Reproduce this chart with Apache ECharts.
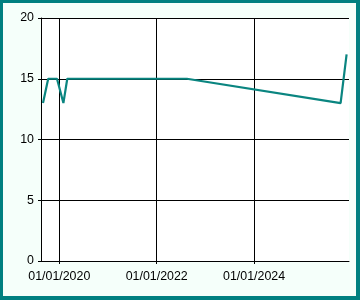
<!DOCTYPE html>
<html>
<head>
<meta charset="utf-8">
<script src="https://cdn.jsdelivr.net/npm/echarts@6/dist/echarts.min.js"></script>
<style>
html,body{margin:0;padding:0;background:#F5FFFA;}
#wrap{position:relative;width:360px;height:300px;}
#chart{position:absolute;left:0;top:0;width:360px;height:300px;}
#frame{position:absolute;left:0;top:0;width:360px;height:300px;box-sizing:border-box;border-style:solid;border-color:#008080;border-width:3px 4px 4px 3px;pointer-events:none;}
</style>
</head>
<body>
<div id="wrap"><div id="chart"></div><div id="frame"></div></div>
<script>
const dates = ['2019-09-01','2019-10-10','2019-12-15','2020-02-01','2020-03-01','2022-08-15','2025-10-11','2025-11-25'];
const values = [13, 15, 15, 13, 15, 15, 13, 17];
const xTickDates = ['2020-01-01','2022-01-01','2024-01-01'];
const xMin = '2019-08-17';
const xMax = '2025-12-13';
const yTicks = [0, 5, 10, 15, 20];

const ts = d => new Date(d + 'T00:00:00Z').getTime();
const pad = n => (n < 10 ? '0' : '') + n;
const fmt = v => { const d = new Date(v); return pad(d.getUTCDate()) + '/' + pad(d.getUTCMonth() + 1) + '/' + d.getUTCFullYear(); };

const chart = echarts.init(document.getElementById('chart'), null, {renderer: 'canvas'});
const font = {fontFamily: 'Liberation Sans', fontSize: 12.4, color: '#000'};
chart.setOption({
  animation: false,
  backgroundColor: '#F5FFFA',
  grid: {left: 41, top: 18, right: 11, bottom: 39, show: true, backgroundColor: '#fff', borderWidth: 0},
  xAxis: {
    type: 'value',
    min: ts(xMin), max: ts(xMax),
    axisLine: {show: true, lineStyle: {color: '#000', width: 1}},
    axisTick: {show: true, length: 3, lineStyle: {color: '#000'}, customValues: xTickDates.map(ts)},
    axisLabel: Object.assign({margin: 10, formatter: v => fmt(v), customValues: xTickDates.map(ts)}, font),
    splitLine: {show: true, lineStyle: {color: '#000', width: 1}}
  },
  yAxis: {
    type: 'value',
    min: yTicks[0], max: yTicks[yTicks.length - 1], interval: 5,
    axisLine: {show: true, lineStyle: {color: '#000', width: 1}},
    axisTick: {show: true, length: 3, lineStyle: {color: '#000'}},
    axisLabel: Object.assign({margin: 7}, font),
    splitLine: {show: true, lineStyle: {color: '#000', width: 1}}
  },
  series: [{
    type: 'line',
    data: dates.map((d, i) => [ts(d), values[i]]),
    showSymbol: false,
    symbol: 'none',
    lineStyle: {color: '#0a8580', width: 2.2},
    itemStyle: {color: '#0a8580'}
  }]
});
</script>
</body>
</html>
